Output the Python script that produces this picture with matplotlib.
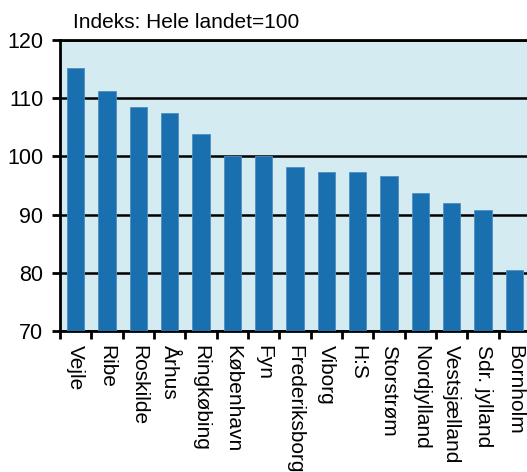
import matplotlib.pyplot as plt
import numpy as np

plt.rcParams['font.family'] = ['Liberation Sans', 'DejaVu Sans']

amter = ['Vejle', 'Ribe', 'Roskilde', 'Århus', 'Ringkøbing', 'København', 'Fyn',
         'Frederiksborg', 'Viborg', 'H:S', 'Storstrøm', 'Nordjylland',
         'Vestsjælland', 'Sdr. jylland', 'Bornholm']
indeks = [115.2, 111.2, 108.5, 107.5, 103.8, 100.0, 100.0,
          98.2, 97.4, 97.4, 96.7, 93.7, 92.0, 90.8, 80.5]
yticks = [70, 80, 90, 100, 110, 120]

bar_col = '#1a6faf'
bg_col = '#d3ebf1'

fig = plt.figure(figsize=(5.27, 4.72), dpi=100)
# axes runs a little past the right edge of the picture
ax = fig.add_axes([60/527, 1-331/472, 470/527, 291/472])
ax.set_facecolor(bg_col)

x = np.arange(len(amter))
ax.bar(x, np.array(indeks)-70, bottom=70, width=0.56, color=bar_col,
       edgecolor='#4f8fc4', linewidth=0.6, zorder=3)

ax.set_ylim(70, 120)
ax.set_xlim(-0.5, len(amter)-0.5)
ax.set_yticks(yticks)
ax.set_yticklabels([str(v) for v in yticks], fontsize=15.5)
ax.set_xticks(x-0.5, minor=False)
ax.set_xticklabels([])
ax.set_xticks(x, minor=True)
ax.set_xticklabels(amter, minor=True, rotation=270, fontsize=15, va='top', ha='center')
ax.tick_params(axis='x', which='minor', length=0, pad=10)
ax.tick_params(axis='x', which='major', length=6, width=2, direction='out')
ax.tick_params(axis='y', length=6, width=2, direction='out', pad=6)

ax.grid(axis='y', color='black', linewidth=1.8, zorder=1)
ax.set_axisbelow(True)
for s in ['left', 'top', 'bottom']:
    ax.spines[s].set_linewidth(2)
    ax.spines[s].set_color('black')
ax.spines['right'].set_visible(False)

fig.text(73/527, 1-22/472, 'Indeks: Hele landet=100', fontsize=15, va='center', ha='left')

plt.savefig('out.png', dpi=100)
